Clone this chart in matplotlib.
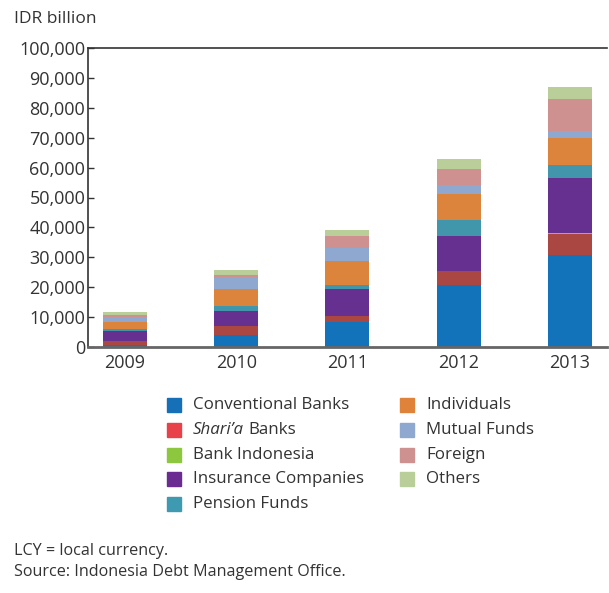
import matplotlib
matplotlib.use("Agg")
import matplotlib.pyplot as plt
from matplotlib.patches import Rectangle
import numpy as np

plt.rcParams['font.family'] = ['Open Sans', 'DejaVu Sans']

years = ["2009", "2010", "2011", "2012", "2013"]

conventional_banks = [570, 4010, 8460, 20640, 30670]
sharia_banks = [1540, 3010, 2010, 4780, 7220]
bank_indonesia = [0, 0, 0, 0, 330]
insurance_companies = [3110, 5120, 8830, 11810, 18390]
pension_funds = [670, 1570, 1440, 5250, 4350]
individuals = [2340, 5690, 8130, 8800, 8830]
mutual_funds = [1910, 4110, 4150, 3010, 2440]
foreign = [400, 670, 4110, 5350, 10800]
others = [1000, 1570, 1910, 3240, 3910]

series = [
    ("Conventional Banks", conventional_banks, "#1273BB", "#1570B8"),
    ("Shari'a Banks", sharia_banks, "#AA4742", "#E8414A"),
    ("Bank Indonesia", bank_indonesia, "#8DC63F", "#8DC63F"),
    ("Insurance Companies", insurance_companies, "#65308F", "#6A2C91"),
    ("Pension Funds", pension_funds, "#4296AB", "#3E9AB0"),
    ("Individuals", individuals, "#DD843C", "#DF823A"),
    ("Mutual Funds", mutual_funds, "#8FA8CF", "#8FA8CF"),
    ("Foreign", foreign, "#CF9090", "#CF9090"),
    ("Others", others, "#B9CE98", "#B9CE98"),
]

W, H = 609, 593
fig = plt.figure(figsize=(W / 100, H / 100), dpi=100)
ax = fig.add_axes([88 / W, 1 - 347 / H, (607 - 88) / W, (347 - 48) / H])

x = np.arange(len(years))
bottom = np.zeros(len(years))
for name, vals, bar_color, _ in series:
    vals = np.array(vals, dtype=float)
    ax.bar(x, vals, bottom=bottom, width=0.396, color=bar_color, linewidth=0)
    bottom += vals

text_color = "#333333"
ax.set_xlim(-0.333, 4.335)
ax.set_ylim(0, 100000)
ax.set_yticks(np.arange(0, 100001, 10000))
ax.set_yticklabels([f"{v:,}" for v in range(0, 100001, 10000)])
ax.set_xticks(x)
ax.set_xticklabels(years)
ax.tick_params(axis='y', direction='in', length=4, width=1, colors="#333333",
               labelsize=13, labelcolor=text_color, pad=2)
ax.tick_params(axis='x', length=0, labelsize=13, labelcolor=text_color, pad=5)
for side in ("left", "top"):
    ax.spines[side].set_color("#333333")
    ax.spines[side].set_linewidth(1.2)
ax.spines["bottom"].set_color("#666666")
ax.spines["bottom"].set_linewidth(2)
ax.spines["right"].set_visible(False)

fig.text(14 / W, 1 - 19 / H, "IDR billion", fontsize=12.5, color=text_color,
         ha="left", va="center")

# legend laid out in two columns
col_x = [167, 400]
row_y = [405, 430, 455, 479, 504]
sq = 14
leg_fs = 12.2
renderer = fig.canvas.get_renderer()
for i, (name, _, _, leg_color) in enumerate(series):
    col = 0 if i < 5 else 1
    row = i if i < 5 else i - 5
    cx, cy = col_x[col], row_y[row]
    fig.patches.append(Rectangle((cx / W, 1 - (cy + sq / 2) / H), sq / W, sq / H,
                                 transform=fig.transFigure, color=leg_color))
    tx = (cx + 26) / W
    ty = 1 - cy / H
    if name == "Shari'a Banks":
        it = fig.text(tx, ty, "Shari\u2019a", fontsize=leg_fs, style="italic",
                      color=text_color, ha="left", va="center")
        bb = it.get_window_extent(renderer=renderer)
        fig.text((bb.x1 + 4) / W, ty, "Banks", fontsize=leg_fs, color=text_color,
                 ha="left", va="center")
    else:
        fig.text(tx, ty, name, fontsize=leg_fs, color=text_color,
                 ha="left", va="center")

fig.text(14 / W, 1 - 551 / H, "LCY = local currency.", fontsize=11.6,
         color=text_color, ha="left", va="center")
fig.text(14 / W, 1 - 572 / H, "Source: Indonesia Debt Management Office.",
         fontsize=11.6, color=text_color, ha="left", va="center")

fig.savefig("out.png", dpi=100)
